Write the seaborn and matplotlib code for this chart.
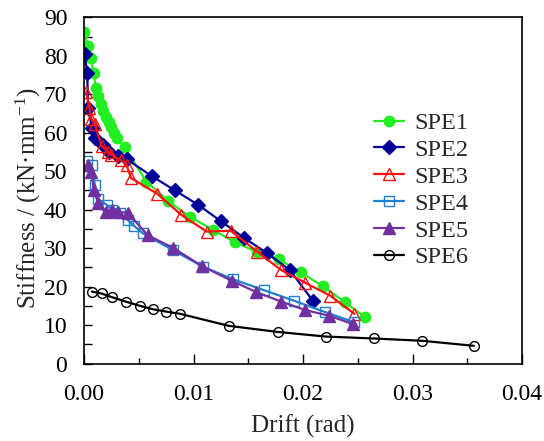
import matplotlib
matplotlib.use("Agg")
import matplotlib.pyplot as plt
import seaborn as sns
import pandas as pd
from matplotlib.ticker import MultipleLocator

sns.set_style("white")
plt.rcParams['font.family'] = ['Liberation Serif', 'DejaVu Serif']
plt.rcParams['mathtext.fontset'] = 'custom'
plt.rcParams['mathtext.rm'] = 'Liberation Serif'
plt.rcParams['mathtext.it'] = 'Liberation Serif:italic'

labels = ["SPE1", "SPE2", "SPE3", "SPE4", "SPE5", "SPE6"]

spe1_x = [0.0000, 0.00037, 0.0006, 0.00088, 0.00107, 0.00128, 0.00152, 0.00176, 0.0020, 0.00225,
          0.0025, 0.00274, 0.0030, 0.0037, 0.0057, 0.0077, 0.0097, 0.0118, 0.0138, 0.0158,
          0.0178, 0.0198, 0.0218, 0.0238, 0.0257]
spe1_y = [86.1, 82.5, 79.4, 75.6, 71.7, 69.5, 67.4, 65.7, 64.2, 62.9,
          61.6, 60.0, 58.5, 56.2, 47.3, 42.2, 38.1, 34.7, 31.5, 29.0,
          27.1, 23.7, 20.1, 16.0, 12.0]

spe2_x = [0.00006, 0.0003, 0.00037, 0.00073, 0.00098, 0.0017, 0.0023, 0.0031, 0.0039, 0.0062,
          0.0083, 0.0104, 0.0125, 0.0146, 0.0167, 0.0188, 0.0209]
spe2_y = [80.4, 75.6, 66.3, 61.3, 58.5, 56.8, 55.0, 53.9, 53.1, 48.7,
          45.0, 41.3, 37.0, 32.7, 28.7, 24.3, 16.3]

spe3_x = [0.0002, 0.0005, 0.00067, 0.001, 0.0016, 0.0022, 0.0025, 0.0034, 0.0039, 0.0043,
          0.0067, 0.0089, 0.0112, 0.0134, 0.0158, 0.0180, 0.0202, 0.0225, 0.0247]
spe3_y = [70.6, 66.3, 63.6, 62.3, 56.6, 55.0, 54.2, 52.8, 51.5, 48.2,
          44.1, 38.6, 34.3, 34.5, 29.1, 24.3, 21.0, 17.6, 12.9]

spe4_x = [0.0003, 0.0007, 0.0010, 0.0013, 0.0021, 0.0026, 0.0033, 0.0040, 0.0046, 0.0054,
          0.0081, 0.0109, 0.0136, 0.0164, 0.0192, 0.0220, 0.0247]
spe4_y = [52.7, 51.6, 46.4, 42.7, 41.2, 39.9, 39.2, 37.3, 35.7, 33.8,
          29.5, 25.1, 21.9, 19.1, 16.3, 13.4, 10.7]

spe5_x = [0.00037, 0.00067, 0.0009, 0.0013, 0.0020, 0.0026, 0.0031, 0.0040, 0.0058, 0.0081,
          0.0108, 0.0135, 0.0157, 0.0180, 0.0202, 0.0224, 0.0246]
spe5_y = [51.6, 49.9, 45.1, 41.6, 39.3, 39.9, 39.4, 39.2, 33.4, 30.1,
          25.3, 21.5, 18.6, 16.1, 13.9, 12.4, 10.2]

spe6_x = [0.00073, 0.0016, 0.0026, 0.0038, 0.0051, 0.0063, 0.0075, 0.0088, 0.0132, 0.0177,
          0.0221, 0.0265, 0.0309, 0.0356]
spe6_y = [18.7, 18.2, 17.2, 16.1, 15.0, 14.1, 13.5, 12.9, 9.8, 8.2,
          7.0, 6.5, 5.9, 4.6]

xs = [spe1_x, spe2_x, spe3_x, spe4_x, spe5_x, spe6_x]
ys = [spe1_y, spe2_y, spe3_y, spe4_y, spe5_y, spe6_y]

styles = [
    dict(color="#22ee22", marker="o", mfc="#22ee22", mec="#22ee22", ms=7.5),
    dict(color="#000099", marker="D", mfc="#000099", mec="#000099", ms=6.8),
    dict(color="#ff1010", marker="^", mfc="none", mec="#ff1010", ms=8),
    dict(color="#1f7fd0", marker="s", mfc="none", mec="#1f7fd0", ms=7),
    dict(color="#7030a0", marker="^", mfc="#7030a0", mec="#7030a0", ms=8),
    dict(color="#000000", marker="o", mfc="none", mec="#000000", ms=7),
]

fig = plt.figure(figsize=(5.44, 4.41), dpi=100)
ax = fig.add_axes([84/544, 1-363.5/441, (522-84)/544, (363.5-17.3)/441])

for lab, x, y, st in zip(labels, xs, ys, styles):
    df = pd.DataFrame({"x": x, "y": y})
    sns.lineplot(data=df, x="x", y="y", ax=ax, sort=False, estimator=None,
                 color=st["color"], marker=st["marker"], markersize=st["ms"],
                 markerfacecolor=st["mfc"], markeredgecolor=st["mec"],
                 markeredgewidth=1.0, linewidth=1.6, label=lab)

ax.set_xlim(0, 0.04)
ax.set_ylim(0, 90)
ax.xaxis.set_major_locator(MultipleLocator(0.01))
ax.xaxis.set_minor_locator(MultipleLocator(0.005))
ax.yaxis.set_major_locator(MultipleLocator(10))
ax.yaxis.set_minor_locator(MultipleLocator(5))
ax.xaxis.set_major_formatter(matplotlib.ticker.FormatStrFormatter("%.2f"))

ax.tick_params(axis="both", which="both", direction="in", colors="black",
               bottom=True, left=True, top=False, right=False)
ax.tick_params(axis="x", which="major", length=7, width=1, labelsize=17, pad=15)
ax.tick_params(axis="x", which="minor", length=4.3, width=1)
ax.tick_params(axis="y", which="major", length=5.5, width=1, labelsize=17, pad=12)
ax.tick_params(axis="y", which="minor", length=5.5, width=1)

for s in ax.spines.values():
    s.set_color("black")
    s.set_linewidth(1.2)

ax.set_xlabel("Drift (rad)", fontsize=18, labelpad=7)
ax.set_ylabel("Stiffness / (kN·mm$^{\\mathrm{-1}}$)", fontsize=18)
ax.yaxis.set_label_coords(-0.0947, 0.4766)

ax.legend(loc="upper left", bbox_to_anchor=(374/544, 1-112/441),
          bbox_transform=fig.transFigure, frameon=False, fontsize=17.5,
          handlelength=1.25, handletextpad=0.4, labelspacing=0.2,
          borderpad=0, borderaxespad=0)

fig.savefig("out.png", dpi=100)
